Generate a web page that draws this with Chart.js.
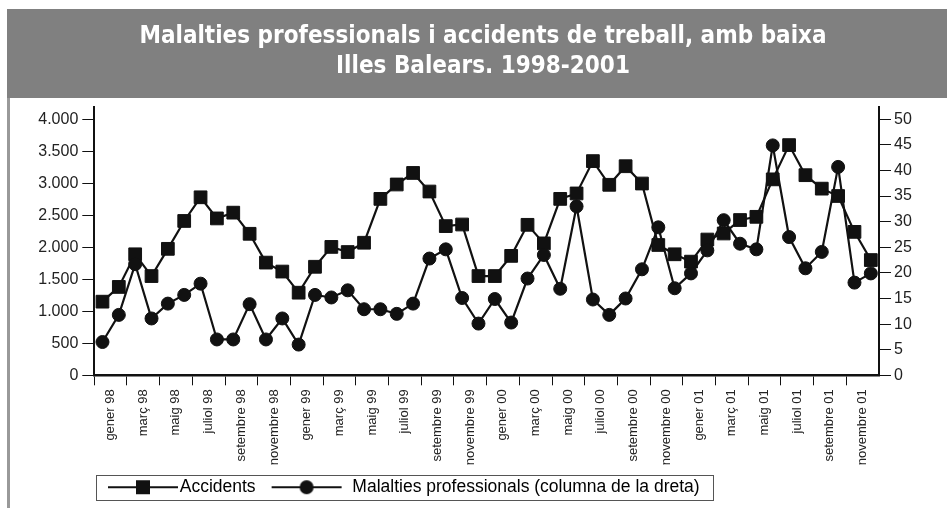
<!DOCTYPE html>
<html>
<head>
<meta charset="utf-8">
<script src="https://cdn.jsdelivr.net/npm/chart.js@4.4.1/dist/chart.umd.min.js"></script>
<style>
body { margin: 0; background: #fff; }
</style>
</head>
<body>
<canvas id="lineChart" width="947" height="508"></canvas>
<script>
var months = ["gener", "febrer", "març", "abril", "maig", "juny", "juliol", "agost", "setembre", "octubre", "novembre", "desembre"];
var years = ["98", "99", "00", "01"];

// Accidents amb baixa, per mes (eix esquerre)
var accidents = [
    1150, 1380, 1890, 1550, 1975, 2410, 2780, 2450, 2540, 2210, 1760, 1620,
    1290, 1695, 2005, 1925, 2070, 2755, 2980, 3160, 2870, 2330, 2355, 1550,
    1550, 1865, 2350, 2060, 2755, 2840, 3345, 2975, 3265, 2995, 2035, 1890,
    1775, 2120, 2215, 2425, 2475, 3060, 3595, 3125, 2915, 2800, 2240, 1800
];
// Malalties professionals (eix dret)
var malalties = [
    6.5, 11.8, 21.7, 11.1, 14, 15.7, 17.9, 7, 7, 13.9, 7, 11.1,
    6, 15.7, 15.2, 16.6, 12.9, 12.9, 12, 14, 22.8, 24.6, 15.1, 10.1,
    14.9, 10.3, 18.9, 23.5, 16.9, 33, 14.8, 11.8, 15, 20.7, 28.9, 17,
    19.9, 24.4, 30.3, 25.7, 24.6, 44.9, 27, 20.9, 24.1, 40.7, 18.1, 19.9
];
var leftTicks = [0, 500, 1000, 1500, 2000, 2500, 3000, 3500, 4000];
var rightTicks = [0, 5, 10, 15, 20, 25, 30, 35, 40, 45, 50];
var titleLines = ["Malalties professionals i accidents de treball, amb baixa", "Illes Balears. 1998-2001"];
var seriesNames = ["Accidents", "Malalties professionals (columna de la dreta)"];

var categories = [];
years.forEach(function (y) {
    months.forEach(function (m) { categories.push(m + " " + y); });
});

function dots(n) {
    return n.toString().replace(/\B(?=(\d{3})+(?!\d))/g, ".");
}

//legend symbol: line with the marker in the middle
//w = canvas width, a = where the 70px line starts inside it
function legendIcon(shape, w, a) {
    var c = document.createElement("canvas");
    c.width = w;
    c.height = 16;
    var g = c.getContext("2d");
    g.strokeStyle = "#111";
    g.lineWidth = 2;
    g.beginPath();
    g.moveTo(a, 8);
    g.lineTo(a + 70, 8);
    g.stroke();
    g.fillStyle = "#111";
    if (shape == "rect") {
        g.fillRect(a + 28, 1, 14, 14);
    } else {
        g.beginPath();
        g.arc(a + 35, 8, 7, 0, Math.PI * 2);
        g.fill();
    }
    return c;
}
var icons = [legendIcon("rect", 70, 0), legendIcon("circle", 140, 26)];

const frame = {
    id: "frame",
    beforeDraw(chart) {
        var ctx = chart.ctx;
        ctx.save();
        ctx.fillStyle = "#fff";
        ctx.fillRect(0, 0, chart.width, chart.height);
        ctx.fillStyle = "#808080";
        ctx.fillRect(7, 9, chart.width - 7, 89);
        ctx.fillStyle = "#999";
        ctx.fillRect(7, 98, 3, chart.height - 98);
        ctx.restore();
    },
    afterLayout(chart) {
        // legend sits under the labels, to the left
        chart.scales.x.bottom = 470;
        chart.legend.left = 83;
        chart.legend.top -= 2;
    },
    afterDraw(chart) {
        var hb = chart.legend.legendHitBoxes;
        if (!hb || hb.length < 2) return;
        var ctx = chart.ctx;
        var l = hb[0].left - 19;
        var r = hb[1].left + hb[1].width + 13;
        var t = hb[0].top - 4;
        ctx.save();
        ctx.strokeStyle = "#555";
        ctx.lineWidth = 1;
        ctx.strokeRect(Math.round(l) + 0.5, Math.round(t) + 0.5, Math.round(r - l), 25);
        ctx.restore();
    }
};

const CHART = document.getElementById("lineChart");
let lineChart = new Chart(CHART, {
    type: "line",
    data: {
        labels: categories,
        datasets: [
            {
                label: seriesNames[0],
                data: accidents,
                yAxisID: "y",
                order: 1,
                borderColor: "#111",
                backgroundColor: "#111",
                borderWidth: 2.2,
                pointStyle: "rect",
                pointRadius: 9,
                pointBorderWidth: 1,
                tension: 0
            },
            {
                label: seriesNames[1],
                data: malalties,
                yAxisID: "y1",
                order: 0,
                borderColor: "#111",
                backgroundColor: "#111",
                borderWidth: 2.2,
                pointStyle: "circle",
                pointRadius: 6.5,
                pointBorderWidth: 1,
                tension: 0
            }
        ]
    },
    options: {
        responsive: false,
        animation: false,
        layout: { padding: { left: 19, right: 0, top: 0, bottom: 0 } },
        plugins: {
            tooltip: { enabled: false },
            title: {
                display: true,
                text: titleLines,
                color: "#fff",
                font: { family: '"Liberation Sans Narrow", "DejaVu Sans Condensed", "Arial Narrow", "Liberation Sans", sans-serif', size: 24, weight: "bold", lineHeight: "30px" },
                padding: { top: 22, bottom: 25 }
            },
            legend: {
                position: "bottom",
                align: "start",
                labels: {
                    usePointStyle: true,
                    pointStyleWidth: 56,
                    padding: 32,
                    color: "#111",
                    font: { family: '"Liberation Sans", Arial, sans-serif', size: 17.5 },
                    generateLabels: function (chart) {
                        return seriesNames.map(function (n, i) {
                            return { text: n, pointStyle: icons[i], fillStyle: "#111", strokeStyle: "#111", lineWidth: 0, hidden: false, datasetIndex: i };
                        });
                    }
                }
            }
        },
        scales: {
            x: {
                offset: true,
                grid: {
                    offset: true,
                    drawOnChartArea: false,
                    tickLength: 10,
                    tickWidth: 1,
                    tickColor: function (c) { return c.index % 2 === 0 ? "#111" : "rgba(0,0,0,0)"; }
                },
                border: { display: true, color: "#111", width: 2.5 },
                ticks: {
                    autoSkip: false,
                    minRotation: 90,
                    maxRotation: 90,
                    labelOffset: 8,
                    padding: 4,
                    color: "#222",
                    font: { family: '"Liberation Sans", Arial, sans-serif', size: 13 },
                    callback: function (v, i) { return i % 2 === 0 ? categories[i] : ""; }
                },
                afterFit: function (s) { s.height = 73.2; }
            },
            y: {
                position: "left",
                min: 0,
                max: 4190,
                grid: { drawOnChartArea: false, tickLength: 12, tickColor: "#111", tickWidth: 1 },
                border: { display: true, color: "#111", width: 2 },
                ticks: {
                    stepSize: 500,
                    padding: 4,
                    color: "#222",
                    font: { family: '"Liberation Sans", Arial, sans-serif', size: 16 },
                    callback: function (v) { return dots(v); }
                },
                afterBuildTicks: function (s) { s.ticks = leftTicks.map(function (v) { return { value: v }; }); },
                afterFit: function (s) { s.width = 75.3; }
            },
            y1: {
                position: "right",
                min: 0,
                max: 52.4,
                grid: { drawOnChartArea: false, tickLength: 12, tickColor: "#111", tickWidth: 1 },
                border: { display: true, color: "#111", width: 2 },
                ticks: {
                    stepSize: 5,
                    padding: 3,
                    color: "#222",
                    font: { family: '"Liberation Sans", Arial, sans-serif', size: 16 }
                },
                afterBuildTicks: function (s) { s.ticks = rightTicks.map(function (v) { return { value: v }; }); },
                afterFit: function (s) { s.width = 68; }
            }
        }
    },
    plugins: [frame]
});
</script>
</body>
</html>
